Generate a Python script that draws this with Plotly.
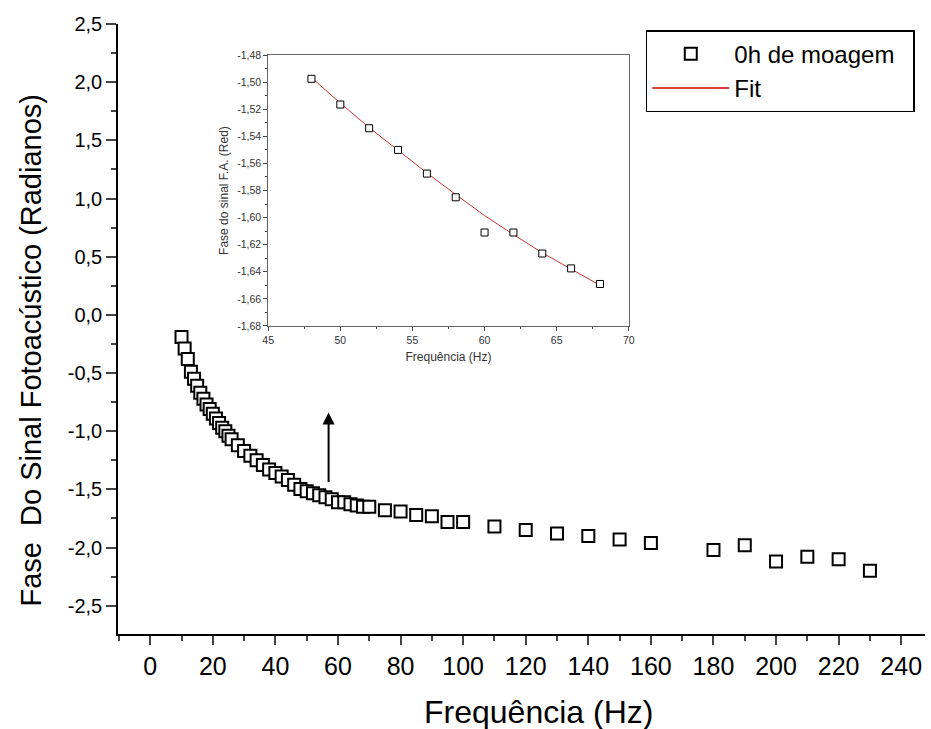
import plotly.graph_objects as go

# Main data: frequency (Hz) and photoacoustic phase (rad)
freq = [10, 11, 12, 13, 14, 15, 16, 17, 18, 19, 20, 21, 22, 23, 24, 25, 26, 28, 30, 32, 34, 36, 38,
        40, 42, 44, 46, 48, 50, 52, 54, 56, 58, 60, 62, 64, 66, 68, 70,
        75, 80, 85, 90, 95, 100, 110, 120, 130, 140, 150, 160, 180, 190, 200, 210, 220, 230]
phase = [-0.19, -0.29, -0.38, -0.49, -0.55, -0.61, -0.67, -0.72, -0.77, -0.81, -0.85, -0.89, -0.93,
         -0.97, -1.00, -1.04, -1.07, -1.12, -1.17, -1.21, -1.25, -1.29, -1.33,
         -1.36, -1.39, -1.42, -1.46, -1.497, -1.517, -1.534, -1.550, -1.567, -1.585, -1.611, -1.611,
         -1.627, -1.638, -1.649, -1.65,
         -1.68, -1.69, -1.72, -1.73, -1.78, -1.78, -1.82, -1.85, -1.88, -1.90, -1.93, -1.96,
         -2.02, -1.98, -2.12, -2.08, -2.10, -2.20]

# Inset data
ins_freq = [48, 50, 52, 54, 56, 58, 60, 62, 64, 66, 68]
ins_phase = [-1.4975, -1.5165, -1.534, -1.550, -1.5675, -1.585, -1.611, -1.611, -1.6265, -1.6375, -1.649]

# Fit curve
fit_freq = [48.2, 50, 52, 54, 56, 58, 60, 62, 64, 66, 68]
fit_phase = [-1.4985, -1.5155, -1.5335, -1.5505, -1.567, -1.583, -1.5985, -1.6125, -1.626, -1.638, -1.650]

# Tick labels
main_yticks = [-2.5, -2.0, -1.5, -1.0, -0.5, 0.0, 0.5, 1.0, 1.5, 2.0, 2.5]
main_ylabels = ["-2,5", "-2,0", "-1,5", "-1,0", "-0,5", "0,0", "0,5", "1,0", "1,5", "2,0", "2,5"]
ins_yticks = [-1.68, -1.66, -1.64, -1.62, -1.60, -1.58, -1.56, -1.54, -1.52, -1.50, -1.48]
ins_ylabels = ["-1,68", "-1,66", "-1,64", "-1,62", "-1,60", "-1,58", "-1,56", "-1,54", "-1,52", "-1,50", "-1,48"]

font_main = "Liberation Sans, Arial, sans-serif"
font_narrow = "Liberation Sans Narrow, Liberation Sans, Arial"

fig = go.Figure()

fig.add_trace(go.Scatter(
    x=fit_freq, y=fit_phase, mode="lines", name="Fit",
    line=dict(color="#cc0000", width=1.5), legendrank=2,
))
fig.add_trace(go.Scatter(
    x=freq, y=phase, mode="markers", name="0h de moagem\u00a0\u00a0",
    marker=dict(symbol="square", size=12, color="white", line=dict(color="black", width=2)),
    legendrank=1,
))

# Inset traces
fig.add_trace(go.Scatter(
    x=fit_freq, y=fit_phase, mode="lines", showlegend=False,
    line=dict(color="#cc3333", width=1), xaxis="x2", yaxis="y2",
))
fig.add_trace(go.Scatter(
    x=ins_freq, y=ins_phase, mode="markers", showlegend=False,
    marker=dict(symbol="square", size=7, color="white", line=dict(color="black", width=1)),
    xaxis="x2", yaxis="y2",
))

fig.add_annotation(
    x=57, y=-0.84, ax=57, ay=-1.45, xref="x", yref="y", axref="x", ayref="y",
    text="", showarrow=True, arrowhead=2, arrowsize=1.2, arrowwidth=2, arrowcolor="black",
)

# Main axis titles as annotations (positioned like the reference)
fig.add_annotation(
    x=0.5215, y=-0.128, xref="paper", yref="paper", xanchor="center", yanchor="middle",
    text="Frequência (Hz)", showarrow=False, font=dict(size=32, family=font_main, color="black"),
)
fig.add_annotation(
    x=-0.108, y=0.466, xref="paper", yref="paper", xanchor="center", yanchor="middle",
    text="Fase\u00a0 Do Sinal Fotoacústico (Radianos)", textangle=-90, showarrow=False,
    font=dict(size=29, family=font_main, color="black"),
)

fig.update_layout(
    width=931, height=729,
    margin=dict(l=118, r=0, t=24, b=95),
    paper_bgcolor="white", plot_bgcolor="white",
    separators=",.",
    font=dict(family=font_main, color="black"),
    showlegend=True,
    legend=dict(
        x=0.654, y=0.99, xanchor="left", yanchor="top",
        bordercolor="black", borderwidth=1.5, bgcolor="white",
        font=dict(size=24, family=font_main), itemwidth=77,
        tracegroupgap=0,
    ),
    xaxis=dict(
        range=[-10.3, 247.6], tickmode="linear", tick0=0, dtick=20,
        ticks="outside", ticklen=9, tickwidth=1.5, showline=True, linecolor="black", linewidth=1.5,
        showgrid=False, zeroline=False,
        tickfont=dict(size=25, family=font_narrow),
        minor=dict(dtick=10, tick0=0, ticks="outside", ticklen=5, tickwidth=1.5, showgrid=False),
    ),
    yaxis=dict(
        range=[-2.743, 2.5], tickmode="array", tickvals=main_yticks, ticktext=main_ylabels,
        ticks="outside", ticklen=10, tickwidth=1.5, showline=True, linecolor="black", linewidth=1.5,
        showgrid=False, zeroline=False, tickfont=dict(size=20),
        minor=dict(dtick=0.25, tick0=0, ticks="outside", ticklen=5, tickwidth=1.5, showgrid=False),
    ),
    xaxis2=dict(
        domain=[0.1861, 0.633], anchor="y2", range=[45, 70], tickmode="linear", tick0=45, dtick=5,
        ticks="outside", ticklen=4, tickwidth=1, showline=True, mirror=True, linecolor="#666666", linewidth=1,
        showgrid=False, zeroline=False, tickfont=dict(size=10.5, color="#333333"),
        minor=dict(dtick=2.5, tick0=45, ticks="outside", ticklen=2, tickwidth=1, showgrid=False),
        title=dict(text="Frequência (Hz)", font=dict(size=12, color="#333333"), standoff=8),
    ),
    yaxis2=dict(
        domain=[0.505, 0.949], anchor="x2", range=[-1.68, -1.48], tickmode="array",
        tickvals=ins_yticks, ticktext=ins_ylabels,
        ticks="outside", ticklen=4, tickwidth=1, showline=True, mirror=True, linecolor="#666666", linewidth=1,
        showgrid=False, zeroline=False, tickfont=dict(size=10.5, color="#333333"),
        minor=dict(dtick=0.01, tick0=-1.68, ticks="outside", ticklen=2, tickwidth=1, showgrid=False),
        title=dict(text="Fase do sinal F.A. (Red)", font=dict(size=12, color="#333333"), standoff=5),
    ),
)

fig.write_html("out.html")
